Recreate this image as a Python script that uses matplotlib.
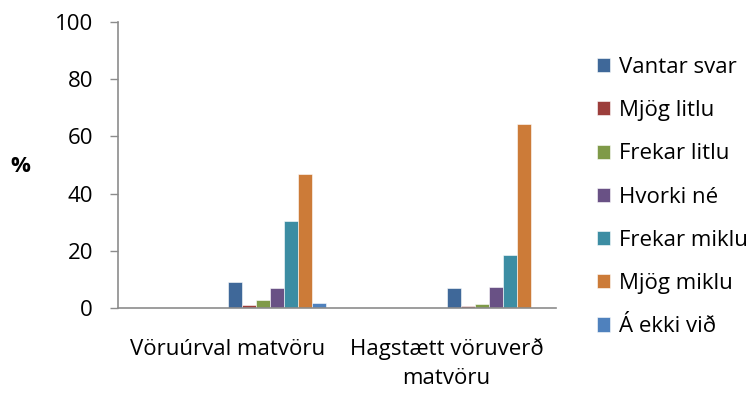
import matplotlib
matplotlib.use("Agg")
import matplotlib.pyplot as plt
import numpy as np

plt.rcParams['font.family'] = ['Open Sans', 'DejaVu Sans']

categories = ["Vöruúrval matvöru", "Hagstætt vöruverð\nmatvöru"]
series = ["Vantar svar", "Mjög litlu", "Frekar litlu", "Hvorki né",
          "Frekar miklu", "Mjög miklu", "Á ekki við"]
values = {
    "Vantar svar": [9.0, 7.0],
    "Mjög litlu": [1.0, 0.8],
    "Frekar litlu": [2.8, 1.4],
    "Hvorki né": [7.0, 7.4],
    "Frekar miklu": [30.5, 18.7],
    "Mjög miklu": [47.0, 64.4],
    "Á ekki við": [1.7, 0.0],
}
colors = ['#3F6899', '#9C3E3B', '#7F9A48', '#695185', '#3C8DA3', '#CC7B38', '#4F81BD']
yticks = [0, 20, 40, 60, 80, 100]

FS = 16

fig = plt.figure(figsize=(7.55, 3.94), dpi=100)
ax = fig.add_axes([118/755, 1-308/394, (556-118)/755, (308-22)/394])

x = np.arange(len(categories))
w = 14.1/219
n_slots = 14
for i, s in enumerate(series):
    slot = 7 + i
    off = (slot - (n_slots-1)/2) * w
    ax.bar(x + off, values[s], width=w, color=colors[i], label=s,
           edgecolor='white', linewidth=0.4)

ax.set_xlim(-0.5, len(categories)-0.5)
ax.set_ylim(0, 100)
ax.set_yticks(yticks)
ax.set_yticklabels([str(t) for t in yticks], fontsize=FS)
ax.set_xticks(x)
ax.set_xticklabels(categories, fontsize=FS, linespacing=1.5)
ax.tick_params(axis='x', length=0, pad=22)
ax.tick_params(axis='y', length=6, color='#8C8C8C', width=1, pad=12)
for sp in ['top', 'right']:
    ax.spines[sp].set_visible(False)
for sp in ['left', 'bottom']:
    ax.spines[sp].set_color('#8C8C8C')
    ax.spines[sp].set_linewidth(1.2)

fig.text(20/755, 1-167/394, '%', fontsize=FS, fontweight='bold', ha='center', va='center')

leg = ax.legend(loc='upper left', bbox_to_anchor=(597/755, 1-57/394),
                bbox_transform=fig.transFigure, frameon=False, fontsize=FS,
                handlelength=0.6, handleheight=0.6, handletextpad=0.4,
                labelspacing=1.0, borderpad=0, borderaxespad=0)

fig.savefig('out.png', dpi=100)
